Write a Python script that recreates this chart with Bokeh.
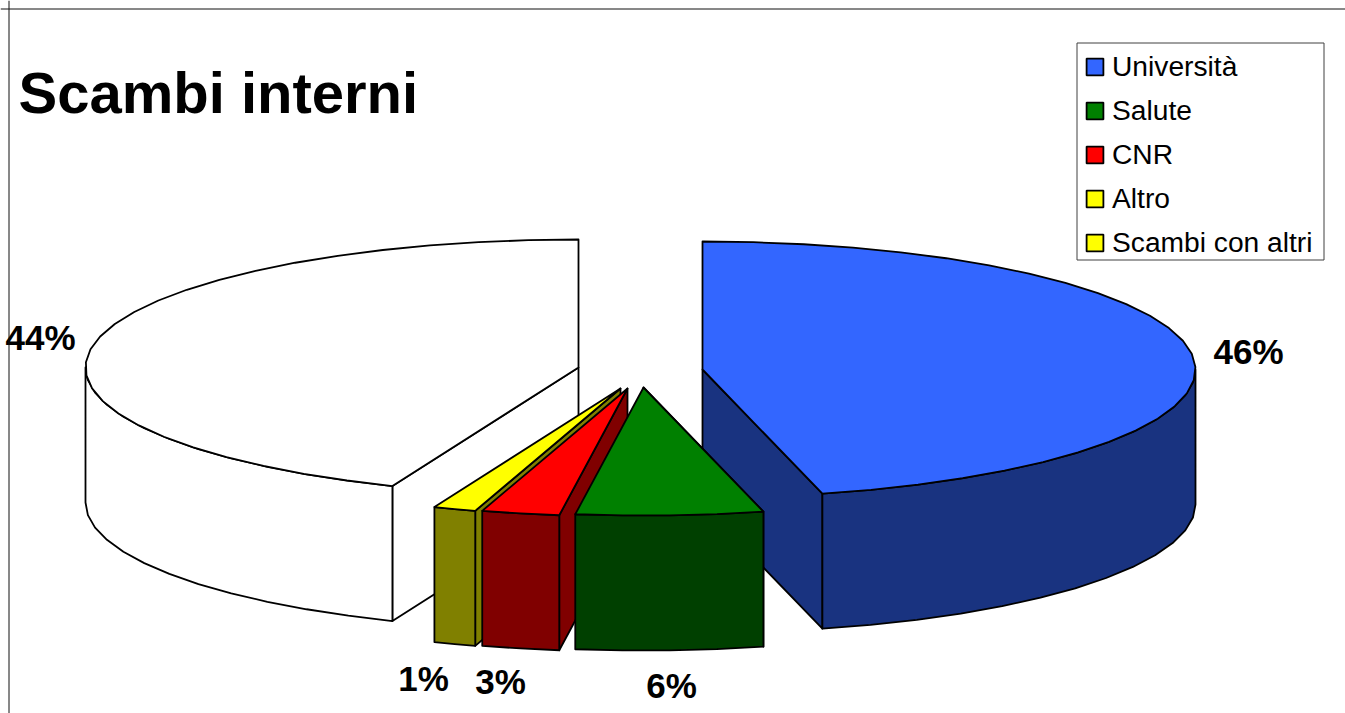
import math
from bokeh.plotting import figure
from bokeh.models import Legend, LegendItem, Span, ColumnDataSource
from bokeh.core.properties import value
from bokeh.embed import file_html
from bokeh.resources import INLINE

# ---- data ----
title_text = "Scambi interni"
categories = ["Università", "Salute", "CNR", "Altro", "Scambi con altri"]
shares = [46.09, 6.12, 2.55, 1.40, 43.84]
top_colors = ["#3366FF", "#008000", "#FF0000", "#FFFF00", "#FFFFFF"]
side_colors = ["#193380", "#004000", "#800000", "#808000", "#FFFFFF"]
legend_colors = ["#3366FF", "#008000", "#FF0000", "#FFFF00", "#FFFF00"]

# ---- layout (page pixels) ----
RX, RY, DEPTH = 493.0, 128.0, 135.0
apex_x = [702, 643, 627, 620, 578]
apex_y = [369, 387, 388, 388, 367]
label_x = [1248, 671, 500, 423, 40]
label_y = [351, 685, 681, 678, 337]
draw_order = [4, 0, 3, 2, 1]
LINE = 1.8
FONT = "Liberation Sans"

W, H = 1345, 713
p = figure(width=W, height=H, x_range=(0, W), y_range=(H, 0),
           output_backend="svg", toolbar_location=None,
           x_axis_type=None, y_axis_type=None, min_border=0,
           outline_line_color=None, background_fill_color="white",
           border_fill_color="white")
p.grid.visible = False

p.add_layout(Span(location=8.5, dimension="width", line_color="#111111", line_width=1))
p.add_layout(Span(location=8.5, dimension="height", line_color="#111111", line_width=1))


def arc(cx, cy, a0, a1, dy=0.0, step=6.0):
    """Points on the projected rim between two clockwise angles from 12 o'clock."""
    n = max(2, int(abs(a1 - a0) / step) + 1)
    xs, ys = [], []
    for k in range(n + 1):
        a = math.radians(a0 + (a1 - a0) * k / n)
        xs.append(cx + RX * math.sin(a))
        ys.append(cy - RY * math.cos(a) + dy)
    return xs, ys


def poly(xs, ys, fill):
    p.patch(xs, ys, fill_color=fill, line_color="black", line_width=LINE, line_join="round")


# slice angles accumulate clockwise from 12 o'clock
starts, acc = [], 0.0
for s in shares:
    starts.append(acc)
    acc += s * 3.6

for i in draw_order:
    a0, a1 = starts[i], starts[i] + shares[i] * 3.6
    cx, cy = apex_x[i], apex_y[i]
    side, top = side_colors[i], top_colors[i]

    # cut face: the edge of the slice that faces the viewer
    cut_a = a1 if i == 0 else a0
    ex, ey = arc(cx, cy, cut_a, cut_a, step=360)
    poly([cx, cx, ex[0], ex[0]], [cy, cy + DEPTH, ey[0] + DEPTH, ey[0]], side)

    # outer wall: only the part of the rim in front of the disc
    w0, w1 = max(a0, 90.0), min(a1, 270.0)
    tx, ty = arc(cx, cy, w0, w1)
    bx, by = arc(cx, cy, w0, w1, dy=DEPTH)
    poly(tx + bx[::-1], ty + by[::-1], side)

    # top face
    ax, ay = arc(cx, cy, a0, a1)
    poly([cx] + ax, [cy] + ay, top)

# percentage labels
src = ColumnDataSource(dict(x=label_x, y=label_y, t=[f"{round(s)}%" for s in shares]))
p.text("x", "y", text="t", source=src, text_font=value(FONT), text_font_style="bold",
       text_font_size="35px", text_align="center", text_baseline="middle", text_color="black")

# chart title
p.text([18], [92], text=[title_text], text_font=value(FONT), text_font_style="bold",
       text_font_size="58px", text_align="left", text_baseline="middle", text_color="black")

# legend frame, then the legend itself
p.quad(left=[1076.5], right=[1323.5], top=[42.5], bottom=[259.5], fill_color="white",
       line_color="#404040", line_width=1)
items = []
nan = float("nan")
for name, c in zip(categories, legend_colors):
    r = p.quad(left=[nan], right=[nan], top=[nan], bottom=[nan], fill_color=c,
               line_color="black", line_width=LINE)
    items.append(LegendItem(label=name, renderers=[r]))
legend = Legend(items=items, location=(1084, 454), orientation="vertical",
                label_text_font=FONT, label_text_font_size="28.2px", label_text_color="black",
                label_height=32, label_standoff=7,
                glyph_width=21, glyph_height=21, spacing=11, padding=0, margin=0,
                border_line_color=None, background_fill_alpha=0.0)
p.add_layout(legend, "center")

open("out.html", "w").write(file_html(p, INLINE))
